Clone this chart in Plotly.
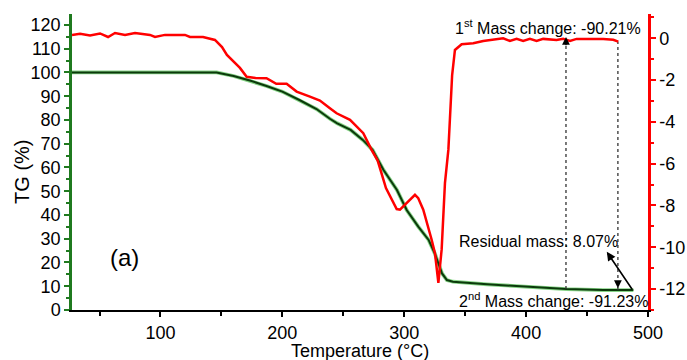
import numpy as np
import plotly.graph_objects as go

# ---------------- data ----------------
temp_tg = [27.4, 146, 160, 174, 187, 200, 214, 228, 239, 245, 256, 266, 274, 283,
           294, 302, 311.5, 320, 325, 331, 335, 340, 368, 400, 433, 463, 488]
tg = [100, 100, 98.5, 96.5, 94.3, 91.9, 88.4, 84.6, 80.5, 78.6, 75.8, 71.6, 67.4, 58.9,
      50.5, 42.1, 35.1, 29.5, 23.9, 15.4, 12.6, 11.9, 10.8, 9.8, 8.8, 8.4, 8.4]

temp_dtg = [27.4, 34, 42.2, 50.4, 57, 62.7, 70.9, 79.1, 91.4, 95.5, 103.7, 120.1, 124.2,
            134.9, 144.7, 150.5, 154.5, 158.4, 165.2, 170.7, 178, 187, 195, 203.5, 211.7,
            222.6, 230.8, 239, 244.5, 255.5, 266.4, 273.2, 278.2, 285, 293.8, 296.5, 302,
            308.8, 311.5, 315.6, 322.5, 325.2, 328, 330.7, 333.4, 336.2, 339.3, 341.6,
            347.1, 356.6, 364.8, 375.8, 381.2, 386.7, 392.2, 397.6, 403.1, 408.6, 414,
            425, 430.4, 436, 441.4, 452.3, 463.3, 471.5, 475.6]
dtg = [0.16, 0.21, 0.13, 0.23, 0.06, 0.25, 0.16, 0.25, 0.16, 0.06, 0.16, 0.16, 0.06,
       0.06, -0.08, -0.42, -0.8, -1.04, -1.42, -1.84, -1.9, -1.91, -2.18, -2.18, -2.55,
       -2.79, -2.98, -3.35, -3.59, -3.9, -4.54, -5.34, -5.85, -7.17, -8.17, -8.2, -7.89,
       -7.49, -7.65, -8.2, -9.64, -10.28, -11.7, -10.1, -6.93, -5.34, -1.76, -0.56,
       -0.29, -0.24, -0.13, -0.03, 0.0, -0.13, -0.03, -0.13, -0.03, -0.13, -0.03,
       -0.08, -0.03, -0.13, -0.03, -0.03, -0.03, -0.07, -0.16]

x_range = [27.4, 500]
y_range = [0, 124.6]
y2_range = [-13, 1.16]
x_tickvals = [100, 200, 300, 400, 500]
y_tickvals = [0, 10, 20, 30, 40, 50, 60, 70, 80, 90, 100, 110, 120]
y2_tickvals = [0, -2, -4, -6, -8, -10, -12]
y2_ticktext = ["0", "-2", "-4", "-6", "-8", "-10", "-12"]

mass_change_temps = [432.7, 475.3]
residual_arrow = dict(tip=(466.2, 24.5), tail=(487.8, 8.1))
label_1st = dict(x=340, y=119.3, text="1<sup>st</sup> Mass change: -90.21%")
label_res = dict(x=343, y=28.8, text="Residual mass: 8.07%")
label_2nd = dict(x=343, y=4.2, text="2<sup>nd</sup> Mass change: -91.23%")
panel_label = dict(x=57, y=22.2, text="(a)")
y_title = "TG (%)"
x_title = "Temperature (°C)"


def dtg_to_left(v):
    return (v - y2_range[0]) / (y2_range[1] - y2_range[0]) * (y_range[1] - y_range[0]) + y_range[0]


FONT = "Liberation Sans, Arial, Helvetica, sans-serif"
GREEN_AX = "#1f7a1f"
RED = "#ff0000"
TICK_SIZE = 18

fig = go.Figure()
# TG curve: light halo + dark core
fig.add_trace(go.Scatter(x=temp_tg, y=tg, mode="lines", line=dict(color="#86d386", width=3.8),
                         hoverinfo="skip", showlegend=False))
fig.add_trace(go.Scatter(x=temp_tg, y=tg, mode="lines", line=dict(color="#0b3a0b", width=2.0),
                         showlegend=False))
# DTG curve
fig.add_trace(go.Scatter(x=temp_dtg, y=dtg, mode="lines", line=dict(color=RED, width=2.5),
                         yaxis="y2", showlegend=False))

annotations = []
# dotted mass-change guides with arrow heads
for i, t in enumerate(mass_change_temps):
    g = float(np.interp(t, temp_tg, tg))
    r = dtg_to_left(float(np.interp(t, temp_dtg, dtg)))
    fig.add_trace(go.Scatter(x=[t, t], y=[g, r], mode="lines", showlegend=False,
                             hoverinfo="skip",
                             line=dict(color="#333333", width=1.3, dash="dot")))
    if i == 0:
        tip, tail = r + 1.2, r - 3
    else:
        tip, tail = g + 0.8, g + 4
    annotations.append(dict(x=t, y=tip, ax=t, ay=tail, xref="x", yref="y",
                            axref="x", ayref="y", showarrow=True, arrowhead=2,
                            arrowsize=1.3, arrowwidth=1.2, arrowcolor="black", text=""))

# residual mass arrow
annotations.append(dict(x=residual_arrow["tip"][0], y=residual_arrow["tip"][1],
                        ax=residual_arrow["tail"][0], ay=residual_arrow["tail"][1],
                        xref="x", yref="y", axref="x", ayref="y", showarrow=True,
                        arrowhead=2, arrowsize=1.1, arrowwidth=1.6, arrowcolor="black",
                        text=""))

for lab in (label_1st, label_res, label_2nd):
    annotations.append(dict(x=lab["x"], y=lab["y"], text=lab["text"], xref="x", yref="y",
                            xanchor="left", yanchor="middle", showarrow=False,
                            font=dict(family=FONT, size=16, color="black")))
annotations.append(dict(x=panel_label["x"], y=panel_label["y"], text=panel_label["text"],
                        xref="x", yref="y", xanchor="left", yanchor="middle", showarrow=False,
                        font=dict(family=FONT, size=24, color="black")))
# axis titles placed as paper annotations (margins fixed)
annotations.append(dict(x=-0.087, y=0.466, xref="paper", yref="paper", text=y_title,
                        textangle=-90, xanchor="center", yanchor="middle", showarrow=False,
                        font=dict(family=FONT, size=20, color="black")))
annotations.append(dict(x=0.5, y=-0.137, xref="paper", yref="paper", text=x_title,
                        xanchor="center", yanchor="middle", showarrow=False,
                        font=dict(family=FONT, size=18, color="black")))

fig.update_layout(
    width=687, height=360,
    margin=dict(l=72, r=39, t=14, b=50),
    paper_bgcolor="white", plot_bgcolor="white",
    font=dict(family=FONT, size=TICK_SIZE, color="black"),
    annotations=annotations,
    xaxis=dict(range=x_range, tickvals=x_tickvals, showgrid=False, zeroline=False,
               automargin=False,
               showline=True, linecolor="black", linewidth=2, ticks="outside",
               ticklen=5, tickwidth=1.5, tickcolor="black",
               minor=dict(dtick=50, tick0=0, ticks="outside", ticklen=4, tickcolor="black"),
               tickfont=dict(size=TICK_SIZE)),
    yaxis=dict(range=y_range, tickvals=y_tickvals, showgrid=False, zeroline=False,
               automargin=False,
               showline=True, linecolor=GREEN_AX, linewidth=2.5, ticks="outside",
               ticklen=5, tickwidth=2, tickcolor=GREEN_AX,
               minor=dict(dtick=5, tick0=0, ticks="outside", ticklen=3, tickcolor=GREEN_AX),
               tickfont=dict(size=TICK_SIZE)),
    yaxis2=dict(range=y2_range, tickvals=y2_tickvals, ticktext=y2_ticktext,
                automargin=False,
                overlaying="y", side="right", anchor="x", showgrid=False, zeroline=False,
                showline=True, linecolor=RED, linewidth=2.5, ticks="outside",
                ticklen=5, tickwidth=2, tickcolor=RED,
                minor=dict(dtick=1, tick0=0, ticks="outside", ticklen=3, tickcolor=RED),
                tickfont=dict(size=TICK_SIZE)),
)

fig.write_html("out.html")
